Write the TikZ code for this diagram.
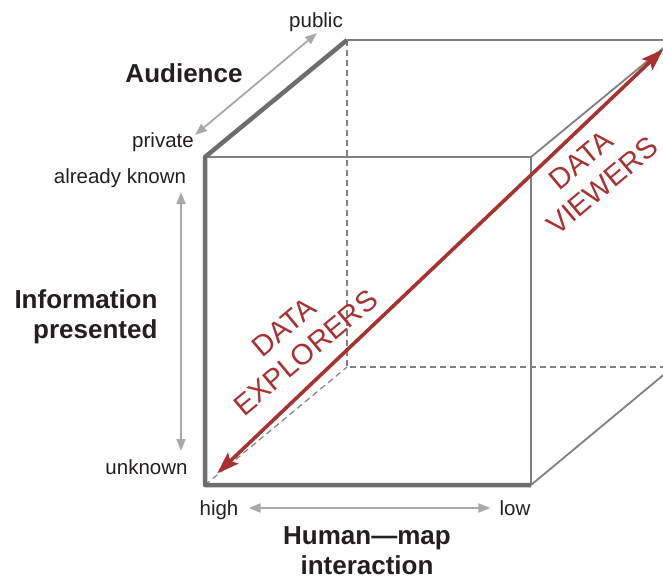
\documentclass[tikz,border=0pt]{standalone}
\usepackage{fontspec}
\setmainfont{Liberation Sans}
\usetikzlibrary{arrows.meta, positioning, calc}
\definecolor{edgegray}{HTML}{808080}
\definecolor{axisgray}{HTML}{A9A9AB}
\definecolor{darkred}{HTML}{A8322F}
\definecolor{inktext}{HTML}{231F20}
\tikzset{
  cubeedge/.style={draw=edgegray, line width=1.8pt},
  boldedge/.style={draw=edgegray!85!black, line width=4.5pt, line join=round},
  hiddenedge/.style={draw=edgegray, line width=1.2pt, dash pattern=on 6pt off 4pt},
  axis/.style={{Triangle[length=12pt,width=9pt]}-{Triangle[length=12pt,width=9pt]}, draw=axisgray, line width=1.8pt},
  userarrow/.style={{Stealth[length=22pt,width=15pt,inset=4pt]}-{Stealth[length=22pt,width=15pt,inset=4pt]}, draw=darkred, line width=3.6pt},
  endlabel/.style={font=\fontsize{20.5}{24}\selectfont, text=inktext, inner sep=0pt, anchor=base},
  dimlabel/.style={font=\fontsize{26}{30}\selectfont\bfseries, text=inktext, align=center, inner sep=0pt},
  userlabel/.style={font=\fontsize{29}{33}\selectfont, text=darkred, align=center, rotate=40, inner sep=0pt}
}

\begin{document}
\begin{tikzpicture}[x=1pt, y=-1pt]
    \clip (0,0) rectangle (663,579);

    % Cube corners
    \coordinate (fbl) at (205,485);
    \coordinate (fbr) at (531,485);
    \coordinate (ftr) at (531,157);
    \coordinate (ftl) at (205,157);
    \coordinate (bbl) at (347,367);
    \coordinate (bbr) at (673,367);
    \coordinate (btr) at (673,40);
    \coordinate (btl) at (347,40);

    % Hidden edges
    \draw[hiddenedge] (btl) -- (bbl) -- (bbr);
    \draw[hiddenedge] (fbl) -- (bbl);

    % Visible edges
    \draw[cubeedge] (ftl) -- (ftr) -- (fbr);
    \draw[cubeedge] (btl) -- (btr) -- (bbr) -- (fbr);
    \draw[cubeedge] (ftr) -- (btr);
    \draw[boldedge] (btl) -- (ftl) -- (fbl) -- (fbr);

    % Users along the diagonal
    \coordinate (explore end) at ($(fbl)!0.026!(btr)$);
    \coordinate (view end) at ($(fbl)!0.979!(btr)$);
    \draw[userarrow] (explore end) -- (view end);
    \node[userlabel] (explorers) at (295,340) {DATA\\EXPLORERS};
    \node[userlabel] (viewers) at (592,173) {DATA\\VIEWERS};

    % Audience axis
    \node[endlabel] (public) at (316,27) {public};
    \node[endlabel] (private) at (163,147) {private};
    \node[dimlabel] (audience) at (184,73) {Audience};
    \coordinate (aud top) at (317,33);
    \coordinate (aud bot) at (195,135);
    \draw[axis] (aud bot) -- (aud top);

    % Information axis
    \node[endlabel] (known) at (120,183) {already known};
    \node[endlabel] (unknown) at (146.5,474) {unknown};
    \node[dimlabel, align=right] (info) at (86,317) {Information\\presented};
    \coordinate (info top) at (181,192);
    \coordinate (info bot) at (181,451);
    \draw[axis] (info top) -- (info bot);

    % Interaction axis
    \node[endlabel] (high) at (219,515) {high};
    \node[endlabel] (low) at (515,515) {low};
    \node[dimlabel] (hmi) at (367,551) {Human\textemdash map\\interaction};
    \draw[axis, shorten <=10pt, shorten >=9pt] (high.east |- 0,508) -- (low.west |- 0,508);

\end{tikzpicture}
\end{document}
